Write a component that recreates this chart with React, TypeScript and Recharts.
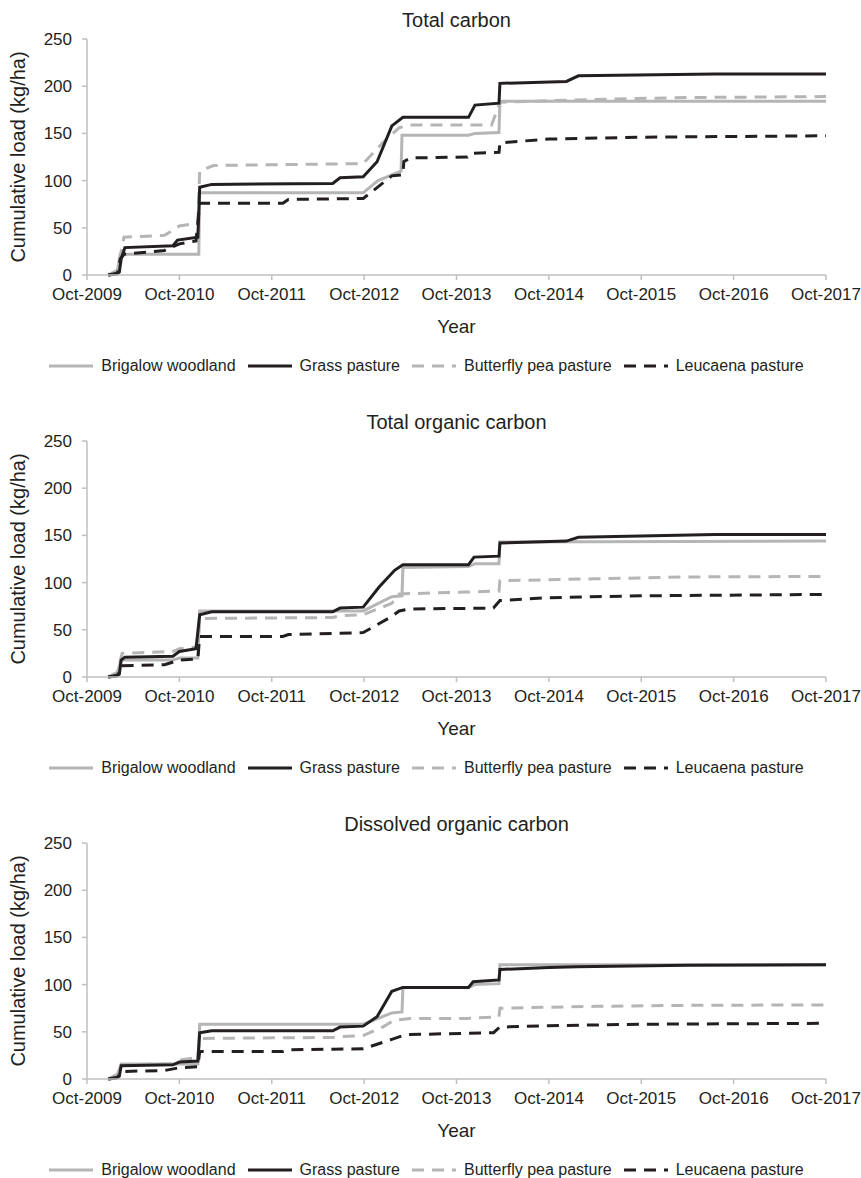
import { LineChart, Line, XAxis, YAxis, Legend } from "recharts";

const YEAR_TICKS = [0, 1, 2, 3, 4, 5, 6, 7, 8];
const YEAR_LABELS = [
  "Oct-2009",
  "Oct-2010",
  "Oct-2011",
  "Oct-2012",
  "Oct-2013",
  "Oct-2014",
  "Oct-2015",
  "Oct-2016",
  "Oct-2017",
];
const LOAD_TICKS = [0, 50, 100, 150, 200, 250];
const SERIES_NAMES = [
  "Brigalow woodland",
  "Grass pasture",
  "Butterfly pea pasture",
  "Leucaena pasture",
];
const PANEL_TITLES = ["Total carbon", "Total organic carbon", "Dissolved organic carbon"];

// [years since Oct-2009, cumulative load kg/ha]
const tcBrigalow = [[0.23, 0], [0.33, 5], [0.36, 22], [1.21, 22], [1.22, 87], [2.99, 87], [3.15, 100], [3.4, 110], [3.41, 148], [4.13, 148], [4.2, 150], [4.46, 151], [4.47, 184], [8, 184]];
const tcGrass = [[0.23, 0], [0.32, 1], [0.35, 3], [0.37, 17], [0.41, 29], [0.93, 31], [0.98, 37], [1.2, 40], [1.22, 93], [1.35, 96], [2.66, 97], [2.74, 103], [2.99, 104], [3.14, 120], [3.3, 158], [3.42, 167], [4.13, 167], [4.2, 180], [4.46, 182], [4.47, 203], [5.19, 205], [5.32, 211], [6.8, 213], [8, 213]];
const tcButterfly = [[0.23, 0], [0.33, 5], [0.4, 40], [0.84, 42], [1.0, 52], [1.2, 55], [1.22, 110], [1.37, 116], [2.99, 118], [3.2, 140], [3.38, 156], [3.5, 159], [4.38, 159], [4.47, 183], [5.5, 186], [6.5, 188], [8, 189]];
const tcLeucaena = [[0.23, 0], [0.33, 2], [0.36, 17], [0.4, 22], [0.84, 26], [1.0, 33], [1.18, 36], [1.22, 76], [2.12, 76], [2.18, 80], [2.99, 81], [3.3, 105], [3.42, 106], [3.43, 120], [3.5, 124], [4.12, 125], [4.16, 129], [4.46, 130], [4.47, 140], [5.0, 144], [6.0, 146], [8, 147.5]];

const tocBrigalow = [[0.23, 0], [0.33, 5], [0.37, 18], [0.93, 18], [1.0, 20], [1.2, 20], [1.22, 70], [2.99, 70], [3.3, 85], [3.41, 86], [3.42, 116], [4.13, 117], [4.2, 120], [4.46, 120], [4.47, 143], [8, 144]];
const tocGrass = [[0.23, 0], [0.32, 1], [0.35, 3], [0.37, 18], [0.41, 21], [0.93, 22], [1.0, 27], [1.18, 30], [1.22, 66], [1.35, 69], [2.66, 69], [2.74, 73], [2.99, 74], [3.16, 95], [3.33, 113], [3.42, 119], [4.13, 119], [4.19, 127], [4.46, 128], [4.47, 142], [5.19, 144], [5.32, 148], [6.8, 151], [8, 151]];
const tocButterfly = [[0.23, 0], [0.33, 5], [0.38, 25], [0.93, 27], [1.0, 30], [1.2, 32], [1.22, 62], [2.66, 63], [2.74, 65], [2.99, 66], [3.3, 78], [3.38, 88], [4.1, 90], [4.46, 91], [4.47, 102], [5.5, 104], [6.5, 106], [8, 106.5]];
const tocLeucaena = [[0.23, 0], [0.33, 2], [0.37, 12], [0.84, 13], [1.0, 18], [1.2, 19], [1.22, 43], [2.12, 43], [2.18, 45], [2.99, 47], [3.28, 63], [3.38, 70], [3.48, 72], [4.4, 73], [4.47, 81], [5.0, 84], [6.0, 86], [8, 87.5]];

const docBrigalow = [[0.23, 0], [0.33, 5], [0.37, 16], [1.2, 16], [1.22, 58], [2.99, 58], [3.3, 70], [3.41, 71], [3.42, 97], [4.13, 97], [4.2, 100], [4.46, 101], [4.47, 121], [8, 121]];
const docGrass = [[0.23, 0], [0.32, 1], [0.35, 3], [0.37, 14], [0.93, 15], [1.0, 18], [1.2, 19], [1.22, 49], [1.35, 51], [2.66, 51], [2.74, 55], [2.99, 56], [3.14, 66], [3.3, 93], [3.42, 97], [4.13, 97], [4.18, 103], [4.46, 105], [4.47, 116], [5.0, 118], [5.3, 119], [6.5, 120.5], [8, 121]];
const docButterfly = [[0.23, 0], [0.33, 5], [0.38, 15], [0.93, 16], [1.0, 20], [1.2, 23], [1.22, 43], [2.66, 44], [2.74, 45], [2.99, 46], [3.2, 55], [3.32, 62], [3.5, 64], [4.1, 64], [4.46, 66], [4.47, 75], [5.5, 77], [6.5, 78], [8, 78.5]];
const docLeucaena = [[0.23, 0], [0.33, 2], [0.38, 8], [0.84, 9], [1.0, 12], [1.2, 13], [1.22, 29], [2.12, 29], [2.18, 31], [2.99, 32], [3.3, 42], [3.45, 47], [4.4, 49], [4.47, 55], [5.0, 56.5], [6.0, 58], [8, 59]];

const PANELS = [
  [tcBrigalow, tcGrass, tcButterfly, tcLeucaena],
  [tocBrigalow, tocGrass, tocButterfly, tocLeucaena],
  [docBrigalow, docGrass, docButterfly, docLeucaena],
];

const GREY = "#b5b5b5";
const DARK = "#231f20";
const AXIS = "#bfbfbf";
const FONT = "'Liberation Sans', Arial, sans-serif";

const SERIES_STYLE = [
  { color: GREY, dash: undefined },
  { color: DARK, dash: undefined },
  { color: GREY, dash: "12 8" },
  { color: DARK, dash: "12 8" },
];
// draw order: brigalow, butterfly pea, leucaena, grass on top
const DRAW_ORDER = [0, 2, 3, 1];

const toPoints = (pairs: number[][]) => pairs.map(([t, v]) => ({ t, v }));

function LegendRow() {
  return (
    <div
      style={{
        display: "flex",
        justifyContent: "center",
        alignItems: "center",
        height: 20,
        paddingRight: 8,
        fontSize: 16,
        fontFamily: FONT,
        color: DARK,
      }}
    >
      {SERIES_NAMES.map((name, i) => (
        <div key={name} style={{ display: "flex", alignItems: "center", marginRight: i < 3 ? 12 : 0 }}>
          <svg width={44} height={6} style={{ marginRight: 8 }}>
            <line
              x1={0}
              y1={3}
              x2={44}
              y2={3}
              stroke={SERIES_STYLE[i].color}
              strokeWidth={3}
              strokeDasharray={SERIES_STYLE[i].dash}
            />
          </svg>
          <span>{name}</span>
        </div>
      ))}
    </div>
  );
}

function YLabel(props: any) {
  const vb = props.viewBox || {};
  const cx = 18;
  const cy = vb.y + vb.height / 2;
  return (
    <text
      x={cx}
      y={cy}
      transform={`rotate(-90, ${cx}, ${cy})`}
      textAnchor="middle"
      dominantBaseline="central"
      fontSize={20}
      fill={DARK}
      fontFamily={FONT}
    >
      Cumulative load (kg/ha)
    </text>
  );
}

function Panel({ title, series }: { title: string; series: number[][][] }) {
  return (
    <div style={{ position: "relative", width: 861, height: 402 }}>
      <div
        style={{
          position: "absolute",
          top: 8,
          left: 87,
          width: 739,
          textAlign: "center",
          fontSize: 20,
          lineHeight: "24px",
          fontFamily: FONT,
          color: DARK,
        }}
      >
        {title}
      </div>
      <LineChart
        width={861}
        height={402}
        margin={{ top: 39, right: 35, left: 0, bottom: 26 }}
        style={{ fontFamily: FONT }}
      >
        <XAxis
          dataKey="t"
          type="number"
          domain={[0, 8]}
          ticks={YEAR_TICKS}
          interval={0}
          tickFormatter={(v) => YEAR_LABELS[v]}
          stroke={AXIS}
          strokeWidth={1.5}
          tickSize={5}
          tickMargin={8}
          tick={{ fill: DARK, fontSize: 17 }}
          height={81}
          label={{ value: "Year", position: "insideBottom", offset: 23, fill: DARK, fontSize: 19 }}
        />
        <YAxis
          dataKey="v"
          type="number"
          domain={[0, 250]}
          ticks={LOAD_TICKS}
          interval={0}
          width={87}
          stroke={AXIS}
          strokeWidth={1.5}
          tickSize={5}
          tickMargin={10}
          tick={{ fill: DARK, fontSize: 17 }}
          label={(p: any) => <YLabel {...p} />}
        />
        <Legend
          verticalAlign="bottom"
          wrapperStyle={{ left: 0, width: 861 }}
          content={() => <LegendRow />}
        />
        {DRAW_ORDER.map((i) => (
          <Line
            key={SERIES_NAMES[i]}
            name={SERIES_NAMES[i]}
            data={toPoints(series[i])}
            dataKey="v"
            type="linear"
            stroke={SERIES_STYLE[i].color}
            strokeWidth={3}
            strokeDasharray={SERIES_STYLE[i].dash}
            dot={false}
            activeDot={false}
            isAnimationActive={false}
          />
        ))}
      </LineChart>
    </div>
  );
}

export default function App() {
  return (
    <div style={{ position: "absolute", left: 0, top: 0, width: 861, height: 1178, background: "#fff" }}>
      {PANEL_TITLES.map((title, k) => (
        <Panel key={title} title={title} series={PANELS[k]} />
      ))}
    </div>
  );
}
